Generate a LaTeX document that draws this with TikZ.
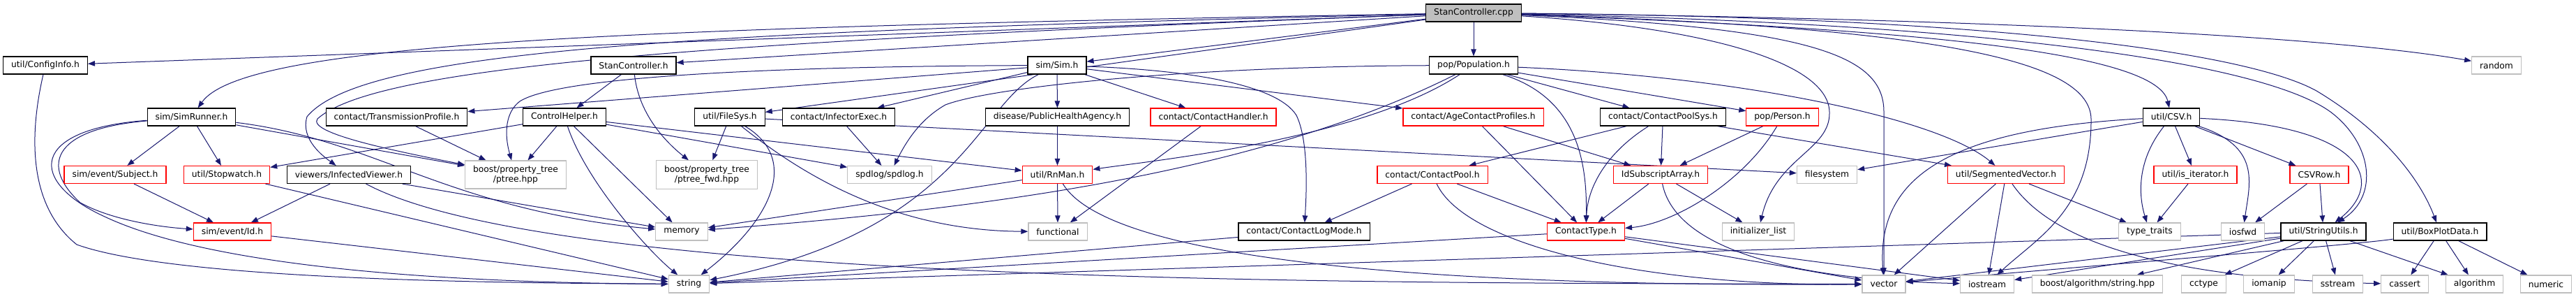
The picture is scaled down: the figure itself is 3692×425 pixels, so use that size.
\documentclass[tikz,border=0pt]{standalone}
\usepackage{fontspec}
\setmainfont{DejaVu Sans}
\usetikzlibrary{arrows.meta}
\definecolor{edgeblue}{HTML}{191970}
\definecolor{sysgray}{HTML}{BFBFBF}
\pgfdeclarelayer{background}
\pgfsetlayers{background,main}
\tikzset{
  hdr/.style={draw=black, fill=white, line width=1.2pt, minimum height=25pt, inner xsep=11.5pt, inner ysep=2pt, font=\fontsize{12.3pt}{14pt}\selectfont},
  trunc/.style={hdr, draw=red},
  sys/.style={hdr, draw=sysgray},
  sys2/.style={sys, align=center, inner ysep=7pt},
  rootfile/.style={hdr, fill=sysgray},
  dep/.style={draw=edgeblue, line width=1pt, -{Triangle[length=10pt,width=7.5pt]}}
}

\begin{document}
\begin{tikzpicture}[x=1pt, y=-1pt]
  \useasboundingbox (0,0) rectangle (3692,425);
  % top
  \node[rootfile] (root) at (2112,18.5) {StanController.cpp};
  % first level
  \node[hdr] (cfg) at (65,93.5) {util/ConfigInfo.h};
  \node[hdr] (sch) at (908,93.5) {StanController.h};
  \node[hdr] (sim) at (1515,93.5) {sim/Sim.h};
  \node[hdr] (pop) at (2112,93.5) {pop/Population.h};
  \node[sys] (rnd) at (3578,93.5) {random};
  % second level
  \node[hdr] (srun) at (274.5,167.5) {sim/SimRunner.h};
  \node[hdr] (tprof) at (568.5,167.5) {contact/TransmissionProfile.h};
  \node[hdr] (chelp) at (809,167.5) {ControlHelper.h};
  \node[hdr] (fsys) at (1046,167.5) {util/FileSys.h};
  \node[hdr] (iexec) at (1202,167.5) {contact/InfectorExec.h};
  \node[hdr] (pha) at (1515.5,167.5) {disease/PublicHealthAgency.h};
  \node[trunc] (chand) at (1739,167.5) {contact/ContactHandler.h};
  \node[trunc] (acp) at (2111.5,167.5) {contact/AgeContactProfiles.h};
  \node[hdr] (cps) at (2383.5,167.5) {contact/ContactPoolSys.h};
  \node[trunc] (person) at (2554.5,167.5) {pop/Person.h};
  \node[hdr] (csv) at (3112,167.5) {util/CSV.h};
  % third level
  \node[trunc] (subj) at (165,250) {sim/event/Subject.h};
  \node[trunc] (swatch) at (325,250) {util/Stopwatch.h};
  \node[hdr] (iview) at (500,250) {viewers/InfectedViewer.h};
  \node[sys2] (ptree) at (739,250) {boost/property\_tree\\/ptree.hpp};
  \node[sys2] (ptfwd) at (1013,250) {boost/property\_tree\\/ptree\_fwd.hpp};
  \node[sys] (spdlog) at (1275,250) {spdlog/spdlog.h};
  \node[trunc] (rnman) at (1515.5,250) {util/RnMan.h};
  \node[trunc] (cpool) at (2053,250) {contact/ContactPool.h};
  \node[trunc] (idsub) at (2380,250) {IdSubscriptArray.h};
  \node[sys] (fs) at (2618.5,250) {filesystem};
  \node[trunc] (segvec) at (2875,250) {util/SegmentedVector.h};
  \node[trunc] (isit) at (3146.5,250) {util/is\_iterator.h};
  \node[trunc] (csvrow) at (3324,250) {CSVRow.h};
  % fourth level
  \node[trunc] (id) at (333,331.5) {sim/event/Id.h};
  \node[sys] (mem) at (977,331.5) {memory};
  \node[sys] (func) at (1516,331.5) {functional};
  \node[hdr] (clog) at (1869,331.5) {contact/ContactLogMode.h};
  \node[trunc] (ctype) at (2273,331.5) {ContactType.h};
  \node[sys] (initl) at (2520,331.5) {initializer\_list};
  \node[sys] (tt) at (3081,331.5) {type\_traits};
  \node[sys] (iosfwd) at (3214.5,331.5) {iosfwd};
  \node[hdr] (sutil) at (3330,331.5) {util/StringUtils.h};
  \node[hdr] (bpd) at (3497,331.5) {util/BoxPlotData.h};
  % system headers
  \node[sys] (str) at (987.5,406.5) {string};
  \node[sys] (vec) at (2700,406.5) {vector};
  \node[sys] (ios) at (2848,406.5) {iostream};
  \node[sys] (bstr) at (3006,406.5) {boost/algorithm/string.hpp};
  \node[sys] (cctype) at (3158.5,406.5) {cctype};
  \node[sys] (iomanip) at (3252,406.5) {iomanip};
  \node[sys] (sstream) at (3350.5,406.5) {sstream};
  \node[sys] (cassert) at (3446.5,406.5) {cassert};
  \node[sys] (algo) at (3546.5,406.5) {algorithm};
  \node[sys] (numeric) at (3649,406.5) {numeric};

  \begin{pgfonlayer}{background}
  \fill[white] (0,0) rectangle (3692,425);
  % from StanController.cpp
  \draw[dep] (root) -- (pop);
  \draw[dep] (root) -- (cfg);
  \draw[dep] (root) .. controls (900,40) and (350,60) .. (srun);
  \draw[dep] (root) -- (sch);
  \draw[dep] (root) -- (sim);
  \draw[dep] (root) -- (fsys);
  \draw[dep] (root) .. controls (1000,45) and (520,70) .. (440,167) .. controls (430,200) and (465,225) .. (iview);
  \draw[dep] (root) .. controls (1000,60) and (540,95) .. (455,170) .. controls (440,190) and (560,215) .. (ptree);
  \draw[dep] (root) .. controls (2450,40) and (2620,90) .. (2622,160) .. controls (2624,215) and (2545,225) .. (initl);
  \draw[dep] (root) .. controls (2600,40) and (2700,80) .. (2700,160) -- (vec);
  \draw[dep] (root) .. controls (2800,40) and (2995,90) .. (2997,170) .. controls (2998,300) and (2920,340) .. (ios);
  \draw[dep] (root) .. controls (2700,40) and (3090,70) .. (csv);
  \draw[dep] (root) .. controls (2900,35) and (3250,95) .. (3340,160) .. controls (3400,205) and (3410,280) .. (sutil);
  \draw[dep] (root) .. controls (2900,25) and (3230,80) .. (3320,130) .. controls (3420,190) and (3470,260) .. (bpd);
  \draw[dep] (root) .. controls (2700,25) and (3300,45) .. (rnd);
  % left part
  \draw[dep] (cfg) .. controls (45,180) and (35,290) .. (110,350) .. controls (250,400) and (700,405) .. (str);
  \draw[dep] (srun) -- (subj);
  \draw[dep] (srun) -- (swatch);
  \draw[dep] (srun) .. controls (70,185) and (60,240) .. (115,290) .. controls (160,315) and (230,325) .. (id);
  \draw[dep] (srun) .. controls (40,185) and (40,260) .. (150,310) .. controls (320,390) and (700,405) .. (str);
  \draw[dep] (srun) -- (ptree);
  \draw[dep] (srun) .. controls (540,200) and (640,300) .. (mem);
  \draw[dep] (subj) -- (id);
  \draw[dep] (swatch) -- (str);
  \draw[dep] (iview) -- (id);
  \draw[dep] (iview) -- (mem);
  \draw[dep] (iview) .. controls (800,410) and (2000,405) .. (vec);
  \draw[dep] (id) -- (str);
  \draw[dep] (tprof) -- (ptree);
  \draw[dep] (sch) -- (chelp);
  \draw[dep] (sch) .. controls (915,160) and (950,200) .. (ptfwd);
  \draw[dep] (chelp) -- (swatch);
  \draw[dep] (chelp) -- (ptree);
  \draw[dep] (chelp) .. controls (840,260) and (930,360) .. (str);
  \draw[dep] (chelp) -- (mem);
  \draw[dep] (chelp) -- (spdlog);
  \draw[dep] (chelp) -- (rnman);
  \draw[dep] (fsys) -- (ptfwd);
  \draw[dep] (fsys) .. controls (1150,230) and (1100,320) .. (str);
  \draw[dep] (fsys) .. controls (1150,250) and (1280,330) .. (func);
  \draw[dep] (fsys) -- (fs);
  % sim/Sim.h
  \draw[dep] (sim) -- (tprof);
  \draw[dep] (sim) .. controls (1100,95) and (800,110) .. (745,145) .. controls (725,160) and (722,190) .. (ptree);
  \draw[dep] (sim) -- (iexec);
  \draw[dep] (sim) -- (pha);
  \draw[dep] (sim) -- (chand);
  \draw[dep] (sim) -- (acp);
  \draw[dep] (sim) .. controls (1700,100) and (1830,120) .. (1858,165) .. controls (1875,200) and (1873,270) .. (clog);
  \draw[dep] (sim) .. controls (1400,150) and (1380,330) .. (str);
  \draw[dep] (iexec) -- (spdlog);
  \draw[dep] (pha) -- (rnman);
  \draw[dep] (chand) -- (func);
  \draw[dep] (rnman) -- (func);
  \draw[dep] (rnman) -- (mem);
  \draw[dep] (rnman) .. controls (1600,390) and (2200,410) .. (vec);
  % pop/Population.h
  \draw[dep] (pop) .. controls (1700,95) and (1420,125) .. (1355,150) .. controls (1320,170) and (1300,200) .. (spdlog);
  \draw[dep] (pop) .. controls (1800,250) and (1400,300) .. (mem);
  \draw[dep] (pop) .. controls (1950,200) and (1650,230) .. (rnman);
  \draw[dep] (pop) -- (cps);
  \draw[dep] (pop) -- (person);
  \draw[dep] (pop) .. controls (2260,140) and (2275,230) .. (ctype);
  \draw[dep] (pop) .. controls (2500,110) and (2780,170) .. (segvec);
  \draw[dep] (clog) -- (str);
  \draw[dep] (acp) -- (ctype);
  \draw[dep] (acp) -- (idsub);
  \draw[dep] (cps) -- (cpool);
  \draw[dep] (cps) .. controls (2300,220) and (2275,270) .. (ctype);
  \draw[dep] (cps) -- (idsub);
  \draw[dep] (cps) -- (segvec);
  \draw[dep] (person) -- (idsub);
  \draw[dep] (person) .. controls (2500,260) and (2400,320) .. (ctype);
  \draw[dep] (cpool) -- (clog);
  \draw[dep] (cpool) -- (ctype);
  \draw[dep] (cpool) .. controls (2100,350) and (2350,410) .. (vec);
  \draw[dep] (idsub) -- (ctype);
  \draw[dep] (idsub) -- (initl);
  \draw[dep] (idsub) .. controls (2400,350) and (2550,400) .. (ios);
  \draw[dep] (ctype) -- (str);
  \draw[dep] (ctype) -- (vec);
  \draw[dep] (ctype) -- (ios);
  % right part
  \draw[dep] (segvec) -- (vec);
  \draw[dep] (segvec) -- (ios);
  \draw[dep] (segvec) -- (tt);
  \draw[dep] (segvec) .. controls (2950,360) and (3150,400) .. (cassert);
  \draw[dep] (csv) .. controls (2780,185) and (2690,260) .. (vec);
  \draw[dep] (csv) -- (fs);
  \draw[dep] (csv) .. controls (3062,230) and (3065,280) .. (tt);
  \draw[dep] (csv) -- (isit);
  \draw[dep] (csv) .. controls (3240,210) and (3225,260) .. (iosfwd);
  \draw[dep] (csv) -- (csvrow);
  \draw[dep] (csv) .. controls (3390,180) and (3420,260) .. (sutil);
  \draw[dep] (isit) -- (tt);
  \draw[dep] (csvrow) -- (iosfwd);
  \draw[dep] (csvrow) -- (sutil);
  \draw[dep] (sutil) -- (str);
  \draw[dep] (sutil) -- (vec);
  \draw[dep] (sutil) -- (ios);
  \draw[dep] (sutil) -- (bstr);
  \draw[dep] (sutil) -- (cctype);
  \draw[dep] (sutil) -- (iomanip);
  \draw[dep] (sutil) -- (sstream);
  \draw[dep] (sutil) -- (algo);
  \draw[dep] (bpd) .. controls (3380,350) and (3000,380) .. (vec);
  \draw[dep] (bpd) -- (cassert);
  \draw[dep] (bpd) -- (algo);
  \draw[dep] (bpd) -- (numeric);
  \end{pgfonlayer}
\end{tikzpicture}
\end{document}
